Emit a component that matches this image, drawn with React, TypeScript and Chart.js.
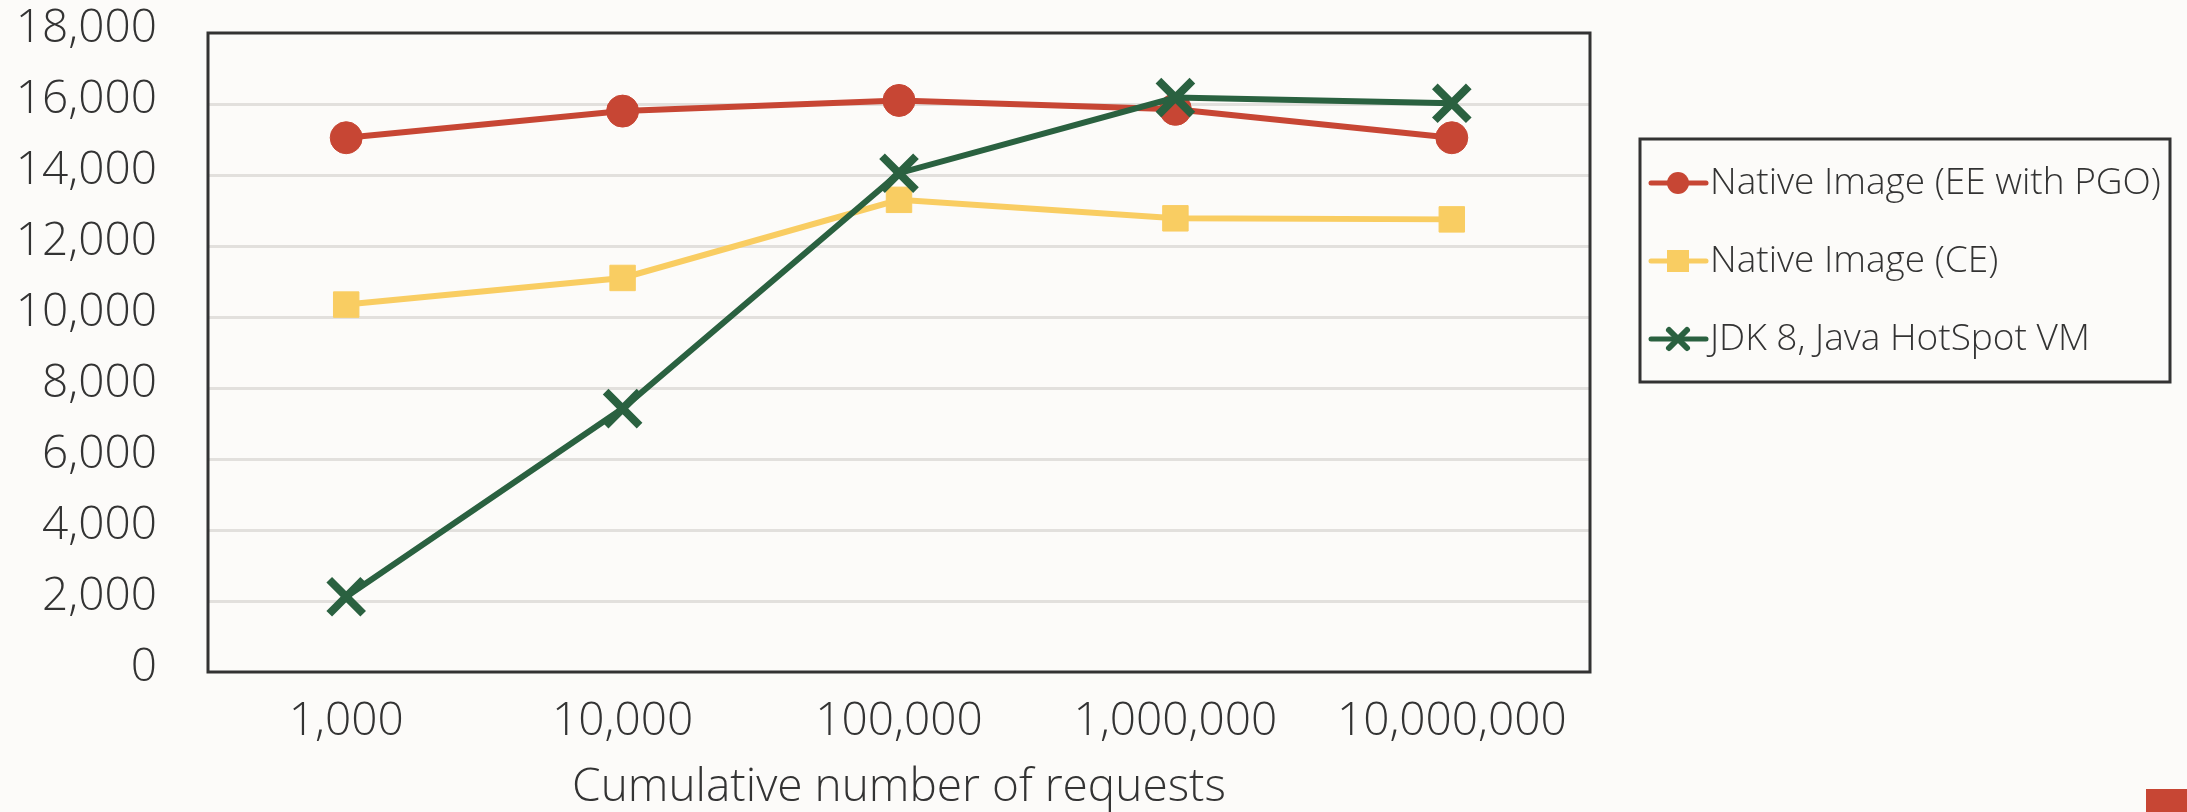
import React, { useEffect, useRef } from "react";
import { Chart, registerables } from "chart.js";

Chart.register(...registerables);

const categories = ["1,000", "10,000", "100,000", "1,000,000", "10,000,000"];
const eeWithPgo = [15050, 15800, 16100, 15850, 15050];
const communityEdition = [10350, 11100, 13300, 12780, 12750];
const hotspotJdk8 = [2120, 7420, 14050, 16180, 16020];
const seriesNames = [
  "Native Image (EE with PGO)",
  "Native Image (CE)",
  "JDK 8, Java HotSpot VM",
];
const yTickMin = 0;
const yTickMax = 18000;
const yTickStep = 2000;
const xAxisTitle = "Cumulative number of requests";

const RED = "#C74634";
const YELLOW = "#F9CD62";
const GREEN = "#2A6140";
const TEXT = "#333333";
const BG = "#FCFBF9";
const FONT = "'Open Sans', 'Noto Sans', sans-serif";

function drawMarker(ctx: CanvasRenderingContext2D, style: string, color: string, x: number, y: number, r: number) {
  ctx.save();
  ctx.fillStyle = color;
  ctx.strokeStyle = color;
  if (style === "circle") {
    ctx.beginPath();
    ctx.arc(x, y, r, 0, Math.PI * 2);
    ctx.fill();
  } else if (style === "rect") {
    const s = r;
    ctx.beginPath();
    ctx.rect(x - s, y - s, 2 * s, 2 * s);
    ctx.fill();
  } else if (style === "crossRot") {
    ctx.lineWidth = 6;
    ctx.beginPath();
    ctx.moveTo(x - r, y - r);
    ctx.lineTo(x + r, y + r);
    ctx.moveTo(x + r, y - r);
    ctx.lineTo(x - r, y + r);
    ctx.stroke();
  }
  ctx.restore();
}

const frameAndLegend = {
  id: "frameAndLegend",
  beforeDatasetsDraw(chart: any) {
    const { ctx, chartArea } = chart;
    ctx.save();
    ctx.strokeStyle = "#333333";
    ctx.lineWidth = 3;
    ctx.strokeRect(chartArea.left, chartArea.top, chartArea.right - chartArea.left, chartArea.bottom - chartArea.top);
    ctx.restore();
  },
  afterDraw(chart: any) {
    const ctx: CanvasRenderingContext2D = chart.ctx;
    ctx.save();
    ctx.strokeStyle = "#333333";
    ctx.lineWidth = 3;
    ctx.strokeRect(1640, 139, 530, 243);
    const markerSizes: Record<string, number> = { circle: 11, rect: 11, crossRot: 9 };
    chart.data.datasets.forEach((ds: any, i: number) => {
      const y = 183 + i * 78;
      ctx.strokeStyle = ds.borderColor;
      ctx.lineWidth = 5;
      ctx.lineCap = "round";
      ctx.beginPath();
      ctx.moveTo(1651, y);
      ctx.lineTo(1706, y);
      ctx.stroke();
      drawMarker(ctx, ds.pointStyle, ds.borderColor, 1678, y, markerSizes[ds.pointStyle]);
      ctx.fillStyle = TEXT;
      ctx.font = `300 37px ${FONT}`;
      ctx.textBaseline = "middle";
      ctx.textAlign = "left";
      ctx.fillText(ds.label, 1710, y);
    });
    ctx.restore();
  },
};

export default function App() {
  const canvasRef = useRef<HTMLCanvasElement | null>(null);

  useEffect(() => {
    document.body.style.margin = "0";
    document.body.style.background = BG;
    const canvas = canvasRef.current;
    if (!canvas) return;
    const chart = new Chart(canvas, {
      type: "line",
      data: {
        labels: categories,
        datasets: [
          {
            label: seriesNames[0],
            data: eeWithPgo,
            borderColor: RED,
            backgroundColor: RED,
            borderWidth: 6,
            pointStyle: "circle",
            pointRadius: 16,
            pointBackgroundColor: RED,
            pointBorderColor: RED,
            pointBorderWidth: 1,
            order: 2,
          },
          {
            label: seriesNames[1],
            data: communityEdition,
            borderColor: YELLOW,
            backgroundColor: YELLOW,
            borderWidth: 6,
            pointStyle: "rect",
            pointRadius: 18,
            pointBackgroundColor: YELLOW,
            pointBorderColor: YELLOW,
            pointBorderWidth: 1,
            order: 1,
          },
          {
            label: seriesNames[2],
            data: hotspotJdk8,
            borderColor: GREEN,
            backgroundColor: GREEN,
            borderWidth: 6,
            pointStyle: "crossRot",
            pointRadius: 24,
            pointBackgroundColor: GREEN,
            pointBorderColor: GREEN,
            pointBorderWidth: 8,
            order: 0,
          },
        ] as any,
      },
      options: {
        responsive: false,
        animation: false,
        devicePixelRatio: 1,
        layout: { padding: { top: 33, right: 597, left: 0, bottom: 0 } },
        plugins: {
          legend: { display: false },
          tooltip: { enabled: false },
        },
        scales: {
          x: {
            type: "category",
            offset: true,
            grid: { display: false, drawTicks: false },
            border: { display: false },
            ticks: {
              color: TEXT,
              padding: 22,
              maxRotation: 0,
              autoSkip: false,
              font: { family: FONT, size: 46, weight: "300" as any },
            },
            title: {
              display: true,
              text: xAxisTitle,
              color: TEXT,
              padding: { top: 0, bottom: -3 },
              font: { family: FONT, size: 46, weight: "300" as any },
            },
            afterFit: (scale: any) => {
              scale.height = 140;
              scale.paddingLeft = 0;
              scale.paddingRight = 0;
            },
          },
          y: {
            min: yTickMin,
            max: yTickMax,
            grid: {
              drawTicks: false,
              lineWidth: 3,
              color: (c: any) =>
                c.tick && (c.tick.value === yTickMin || c.tick.value === yTickMax) ? "rgba(0,0,0,0)" : "#E2E0DD",
            },
            border: { display: false },
            ticks: {
              stepSize: yTickStep,
              color: TEXT,
              padding: 51,
              labelOffset: -4,
              font: { family: FONT, size: 46, weight: "300" as any },
              callback: (v: any) => Number(v).toLocaleString("en-US"),
            },
            afterFit: (scale: any) => {
              scale.width = 208;
              scale.paddingTop = 0;
              scale.paddingBottom = 0;
            },
          },
        },
      },
      plugins: [frameAndLegend],
    });
    return () => chart.destroy();
  }, []);

  return (
    <div style={{ position: "relative", width: 2187, height: 812, background: BG, overflow: "hidden" }}>
      <canvas ref={canvasRef} width={2187} height={812} style={{ display: "block" }} />
      <div style={{ position: "absolute", left: 2146, top: 789, width: 41, height: 23, background: RED }} />
    </div>
  );
}
